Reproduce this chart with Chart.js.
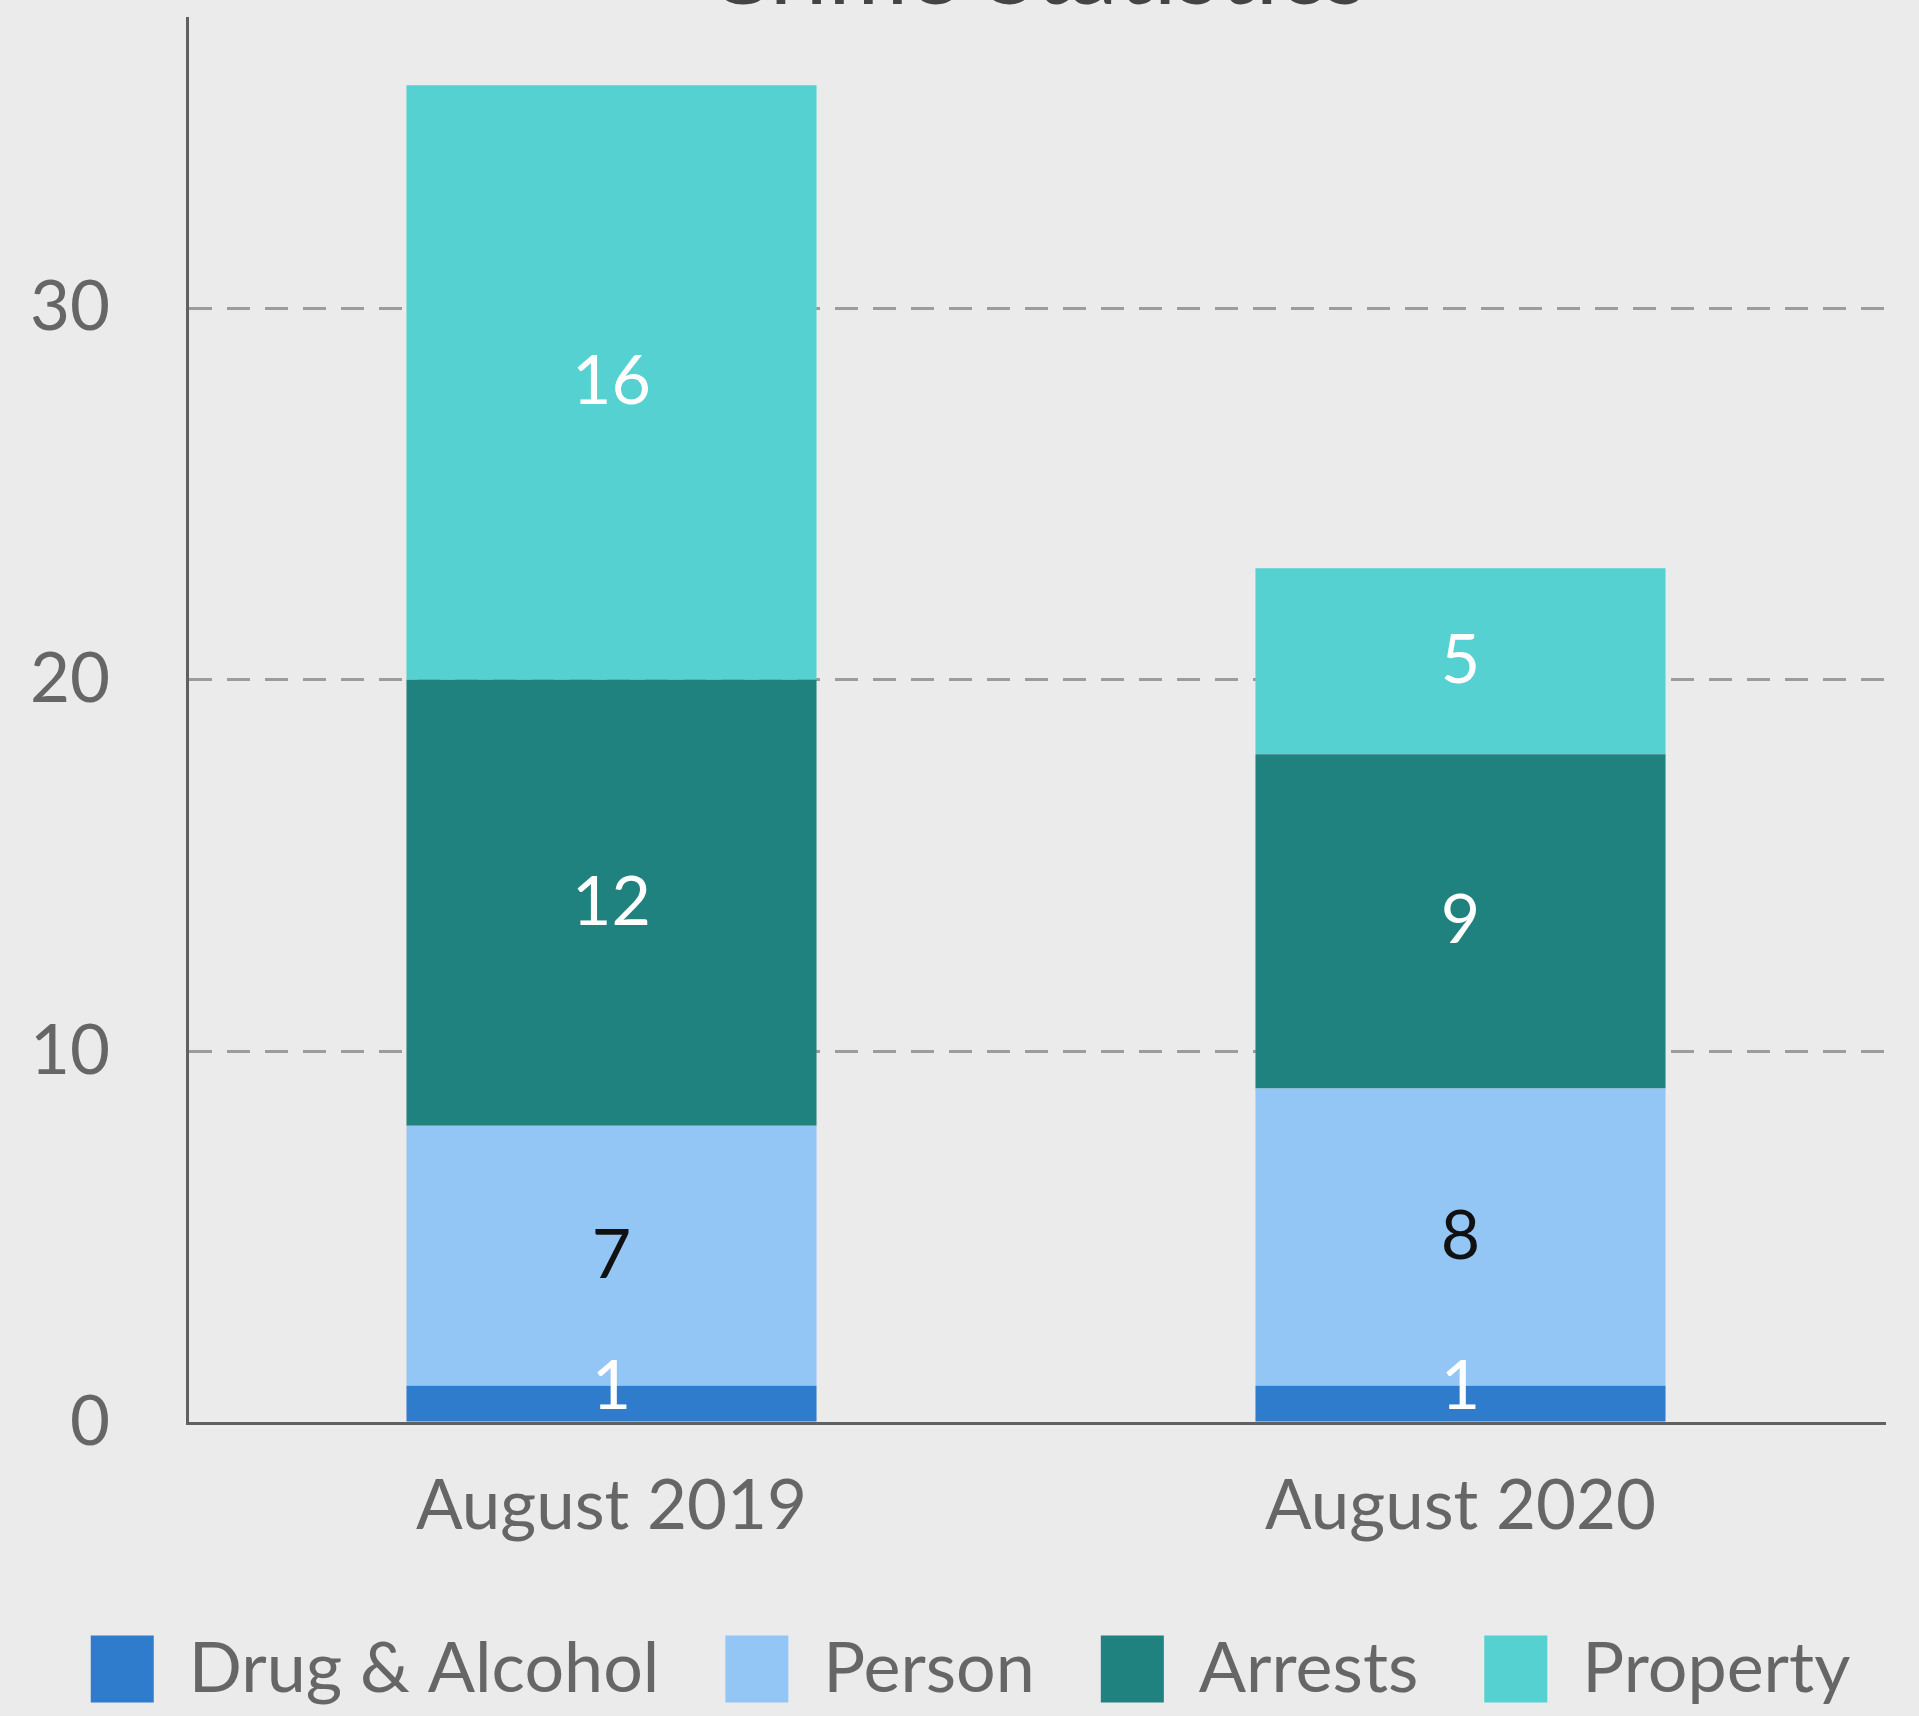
<!DOCTYPE html>
<html>
<head>
<meta charset="utf-8">
<script src="https://cdn.jsdelivr.net/npm/chart.js@4"></script>
<style>
  html, body { margin: 0; padding: 0; background: #ebebeb; overflow: hidden; }
  body { width: 1919px; height: 1716px; position: relative; }
  #wrap { position: absolute; left: 0; top: -100px; width: 1941px; height: 1816px; }
</style>
</head>
<body>
<div id="wrap"><canvas id="chart_1" width="1941" height="1816"></canvas></div>
<script>
const months = ["August 2019", "August 2020"];
const drugAlcohol = [1, 1];
const person = [7, 8];
const arrests = [12, 9];
const property = [16, 5];
const yTicks = [0, 10, 20, 30];

const labelColors = ["#ffffff", "#111111", "#ffffff", "#ffffff"];

Chart.defaults.font.family = "Lato";

// value labels in the middle of each segment
const barLabels = {
  id: "barLabels",
  afterDatasetsDraw(chart) {
    const ctx = chart.ctx;
    ctx.save();
    ctx.font = "68px Lato";
    ctx.textAlign = "center";
    chart.data.datasets.forEach((ds, i) => {
      chart.getDatasetMeta(i).data.forEach((bar, j) => {
        const h = bar.base - bar.y;
        ctx.fillStyle = labelColors[i];
        if (h < 68) {
          ctx.textBaseline = "bottom";
          ctx.fillText(ds.data[j], bar.x, bar.base);
        } else {
          ctx.textBaseline = "middle";
          ctx.fillText(ds.data[j], bar.x, bar.y + h / 2);
        }
      });
    });
    ctx.restore();
  },
};

const ct = document.getElementById("chart_1");

const config = {
  type: "bar",
  data: {
    labels: months,
    datasets: [
      { label: "Drug & Alcohol", data: drugAlcohol, backgroundColor: "#2f7ccc" },
      { label: "Person", data: person, backgroundColor: "#94c6f5" },
      { label: "Arrests", data: arrests, backgroundColor: "#20827f" },
      { label: "Property", data: property, backgroundColor: "#55d1d1" },
    ],
  },
  options: {
    responsive: false,
    animation: false,
    devicePixelRatio: 1,
    layout: { padding: { left: 0, right: 0, top: 0, bottom: 2 } },
    datasets: {
      bar: { borderWidth: 0, barPercentage: 1, categoryPercentage: 0.483 },
    },
    scales: {
      x: {
        stacked: true,
        grid: { display: false, drawTicks: false },
        border: { display: true, color: "#606060", width: 3 },
        ticks: { color: "#666666", font: { size: 69 }, padding: 42 },
        afterFit(s) { s.height = 145; },
      },
      y: {
        stacked: true,
        min: 0,
        max: 37.8,
        afterBuildTicks(s) { s.ticks = yTicks.map(v => ({ value: v })); },
        grid: { color: "#9c9c9c", lineWidth: 3, drawTicks: false },
        border: { display: true, color: "#606060", width: 3, dash: [23, 15] },
        ticks: { color: "#666666", font: { size: 69 }, padding: 77 },
        afterFit(s) { s.width = 187; },
      },
      yr: {
        position: "right",
        display: true,
        grid: { display: false, drawTicks: false },
        border: { display: false },
        ticks: { display: false },
        afterFit(s) { s.width = 56; },
      },
    },
    plugins: {
      title: {
        display: true,
        text: "Crime Statistics",
        fullSize: false,
        color: "#444444",
        font: { size: 97, lineHeight: 0.8, weight: "normal" },
        padding: { top: 28, bottom: 7 },
      },
      legend: {
        position: "bottom",
        labels: {
          boxWidth: 63,
          boxHeight: 67,
          padding: 66,
          color: "#666666",
          font: { size: 70 },
        },
      },
      tooltip: { enabled: false },
    },
  },
  plugins: [barLabels],
};

new Chart(ct, config);
</script>
</body>
</html>
